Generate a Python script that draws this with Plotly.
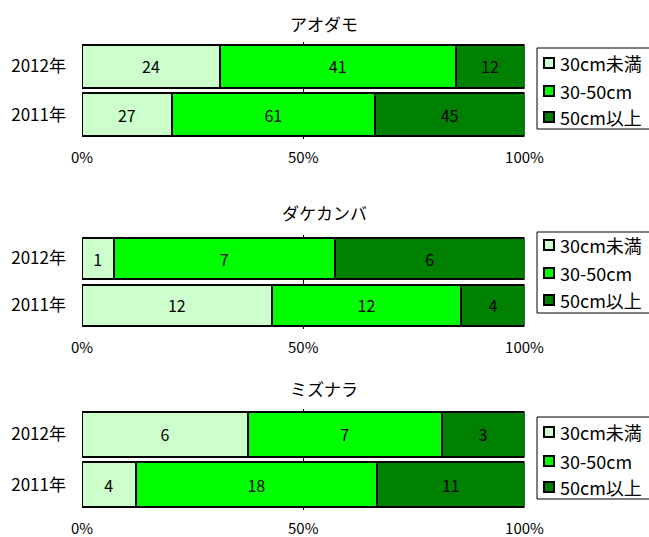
import plotly.graph_objects as go

years = ["2011年", "2012年"]
series_names = ["30cm未満", "30-50cm", "50cm以上"]
colors = ["#CCFFCC", "#00FF00", "#008000"]
titles = ["アオダモ", "ダケカンバ", "ミズナラ"]

# values per species: [2011, 2012]
aodamo = {"30cm未満": [27, 24], "30-50cm": [61, 41], "50cm以上": [45, 12]}
dakekanba = {"30cm未満": [12, 1], "30-50cm": [12, 7], "50cm以上": [4, 6]}
mizunara = {"30cm未満": [4, 6], "30-50cm": [18, 7], "50cm以上": [11, 3]}
species_data = [aodamo, dakekanba, mizunara]

tick_vals = [0, 50, 100]
tick_text = ["0%", "50%", "100%"]

W, H = 649, 537
FONT = "Noto Sans CJK JP"

# layout geometry in pixels
areas = [(42, 139), (235, 329), (409, 510)]
title_y = [23, 213, 388]
legend_box = [(48, 129), (232, 313), (417, 499)]
legend_item_y = [(63, 91, 117), (245, 273, 300), (432, 461, 487)]
x0_px, x1_px = 82, 524.5
leg_x0, leg_x1 = 537, 651


def px(x):
    return x / W


def py(y):
    return 1 - y / H


fig = go.Figure()
for i, data in enumerate(species_data):
    sfx = "" if i == 0 else str(i + 1)
    for j, name in enumerate(series_names):
        vals = data[name]
        fig.add_trace(go.Bar(
            y=years, x=vals, orientation="h", name=name,
            text=[str(v) for v in vals], textposition="inside",
            insidetextanchor="middle", textangle=0,
            textfont=dict(color="black", size=16, family=FONT),
            marker=dict(color=colors[j], line=dict(color="black", width=2)),
            xaxis="x" + sfx, yaxis="y" + sfx, showlegend=False,
            hoverinfo="skip",
        ))

shapes = []
annotations = []
layout = dict(
    width=W, height=H, margin=dict(l=0, r=0, t=0, b=0),
    paper_bgcolor="white", plot_bgcolor="white",
    barmode="stack", barnorm="percent", bargap=0.11,
    font=dict(family=FONT, color="black", size=15),
    showlegend=False,
)
for i in range(3):
    sfx = "" if i == 0 else str(i + 1)
    top, bot = areas[i]
    layout["xaxis" + sfx] = dict(
        domain=[px(x0_px), px(x1_px)], range=[0, 100],
        anchor="y" + sfx, tickvals=tick_vals, ticktext=tick_text,
        showgrid=True, gridcolor="black", gridwidth=1, zeroline=False,
        showline=False, ticks="", ticklabelstandoff=8, automargin=False,
        tickfont=dict(size=15, family=FONT, color="black"),
        fixedrange=True, layer="below traces",
    )
    layout["yaxis" + sfx] = dict(
        domain=[py(bot), py(top)], anchor="x" + sfx,
        type="category", showgrid=False, zeroline=False, showline=False,
        ticks="", ticklabelstandoff=15, automargin=False,
        tickfont=dict(size=17, family=FONT, color="black"),
        fixedrange=True,
    )
    annotations.append(dict(
        text=titles[i], x=px(324), y=py(title_y[i]),
        xref="paper", yref="paper", showarrow=False,
        font=dict(size=17, family=FONT, color="black"),
        xanchor="center", yanchor="middle",
    ))
    # legend box
    lt, lb = legend_box[i]
    shapes.append(dict(
        type="rect", xref="paper", yref="paper",
        x0=px(leg_x0), x1=px(leg_x1), y0=py(lb), y1=py(lt),
        line=dict(color="black", width=1), fillcolor="white", layer="above",
    ))
    for j, name in enumerate(series_names):
        cy = legend_item_y[i][j]
        shapes.append(dict(
            type="rect", xref="paper", yref="paper",
            x0=px(544), x1=px(554), y0=py(cy + 5), y1=py(cy - 5),
            line=dict(color="black", width=2), fillcolor=colors[j],
            layer="above",
        ))
        annotations.append(dict(
            text=name, x=px(558), y=py(cy), xref="paper", yref="paper",
            showarrow=False, xanchor="left", yanchor="middle",
            font=dict(size=18, family=FONT, color="black"),
        ))

layout["shapes"] = shapes
layout["annotations"] = annotations
fig.update_layout(**layout)
fig.write_html("out.html")
